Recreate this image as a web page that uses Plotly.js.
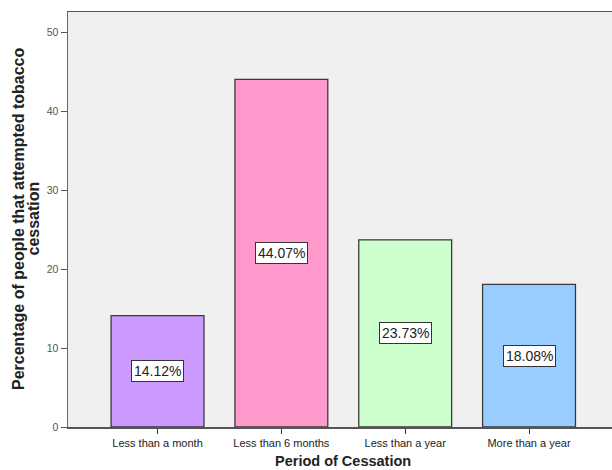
<!DOCTYPE html>
<html>
<head>
<meta charset="utf-8">
<script src="https://cdn.plot.ly/plotly-3.0.1.min.js"></script>
<style>
  html, body { margin: 0; padding: 0; background: #ffffff; }
  #chart { width: 612px; height: 470px; }
</style>
</head>
<body>
<div id="chart"></div>
<script>
// Share of people who attempted tobacco cessation, by period of cessation
const categories = ["Less than a month", "Less than 6 months", "Less than a year", "More than a year"];
const percentages = [14.12, 44.07, 23.73, 18.08];
const barColors = ["#CC99FF", "#FF99CC", "#CCFFCC", "#99CCFF"];
const yTicks = [0, 10, 20, 30, 40, 50];
const yTitleLines = ["Percentage of people that attempted tobacco", "cessation"];
const xTitle = "Period of Cessation";

const bars = {
  type: "bar",
  x: categories,
  y: percentages,
  width: 0.75,
  marker: {
    color: barColors,
    line: { color: "#3a3a3a", width: 1.3 }
  },
  hoverinfo: "x+y"
};

// Boxed value labels placed at the middle of each bar
const valueLabels = categories.map((c, i) => ({
  x: c,
  y: percentages[i] / 2,
  xref: "x",
  yref: "y",
  text: percentages[i].toFixed(2) + "%",
  showarrow: false,
  font: { family: "Arial, Liberation Sans, sans-serif", size: 14, color: "#222222" },
  bgcolor: "#ffffff",
  bordercolor: "#333333",
  borderwidth: 1,
  borderpad: 2
}));

// Two-line rotated y-axis title with tight line spacing
const yTitleShifts = [-49.5, -35];
const yTitleAnnotations = yTitleLines.map((line, i) => ({
  x: 0,
  y: 0.5,
  xref: "paper",
  yref: "paper",
  xshift: yTitleShifts[i],
  yshift: 1,
  xanchor: "center",
  yanchor: "middle",
  text: "<b>" + line + "</b>",
  textangle: -90,
  showarrow: false,
  font: { family: "Arial, Liberation Sans, sans-serif", size: 16, color: "#222222" }
}));

const xTitleAnnotation = {
  x: 0.5,
  y: 0,
  xref: "paper",
  yref: "paper",
  xshift: 3,
  yshift: -33.5,
  xanchor: "center",
  yanchor: "middle",
  text: "<b>" + xTitle + "</b>",
  showarrow: false,
  font: { family: "Arial, Liberation Sans, sans-serif", size: 14.5, color: "#222222" }
};

const layout = {
  width: 612,
  height: 470,
  margin: { l: 68, r: 0, t: 12, b: 43, pad: 0 },
  paper_bgcolor: "#ffffff",
  plot_bgcolor: "#F0F0F0",
  showlegend: false,
  font: { family: "Arial, Liberation Sans, sans-serif", color: "#222222" },
  xaxis: {
    type: "category",
    range: [-0.723, 3.67],
    showgrid: false,
    zeroline: false,
    showline: true,
    linecolor: "#555555",
    linewidth: 1.5,
    mirror: true,
    ticks: "outside",
    ticklen: 5,
    tickwidth: 1,
    tickcolor: "#333333",
    tickfont: { size: 11, color: "#222222" },
    fixedrange: true
  },
  yaxis: {
    range: [0, 52.6],
    tickvals: yTicks,
    showgrid: false,
    zeroline: false,
    showline: true,
    linecolor: "#666666",
    linewidth: 1.5,
    mirror: false,
    ticks: "outside",
    ticklen: 6,
    tickwidth: 1,
    tickcolor: "#555555",
    tickfont: { size: 10.5, color: "#555555" },
    fixedrange: true
  },
  annotations: valueLabels.concat(yTitleAnnotations, [xTitleAnnotation])
};

Plotly.newPlot("chart", [bars], layout, { displayModeBar: false, staticPlot: true });
</script>
</body>
</html>
